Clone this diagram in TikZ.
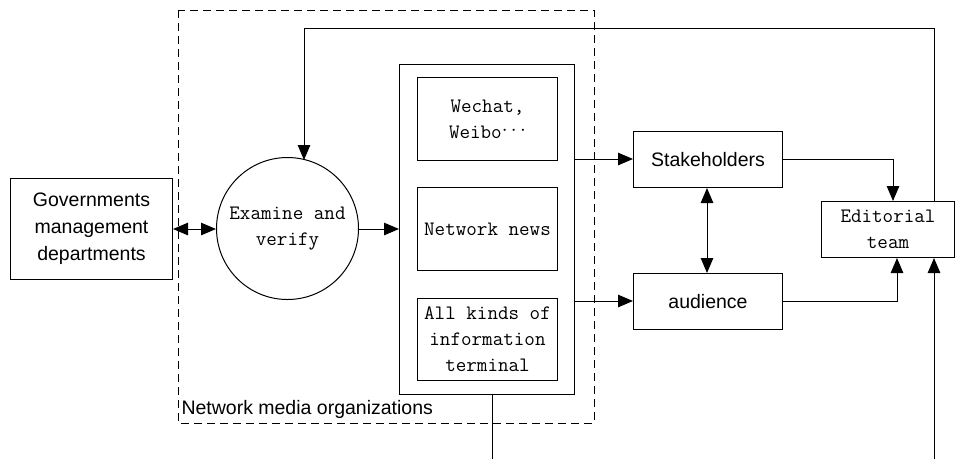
\documentclass[tikz,border=0pt]{standalone}
\usepackage{fontspec}
\setmainfont{Liberation Sans}
\usetikzlibrary{arrows.meta}
\begin{document}
\begin{tikzpicture}[x=1pt,y=-1pt,
  line width=1pt,
  tip/.style={-{Triangle[length=15pt,width=12.5pt]}},
  twotip/.style={{Triangle[length=15pt,width=12.5pt]}-{Triangle[length=15pt,width=12.5pt]}},
  sanstext/.style={font=\fontsize{19.5}{27}\selectfont, align=center},
  monotext/.style={font=\ttfamily\fontsize{20.5}{26}\selectfont, align=center},
  box/.style={draw, rectangle, inner sep=0pt, anchor=north west}
]
\useasboundingbox (0,0) rectangle (955,459);

% organisation boundary
\draw[dash pattern=on 8pt off 5pt] (178,10) rectangle (594,423);
\node[sanstext, anchor=base west, inner sep=0pt] (orglabel) at (181,414) {Network media organizations};

% left box and review circle
\node[box, minimum width=162pt, minimum height=101pt, sanstext] (gov) at (10,178)
  {Governments\\management\\departments};
\node[draw, circle, minimum size=142pt, inner sep=0pt, monotext] (exam) at (287.5,228.5)
  {Examine and\\verify};

% media column with its channels
\node[box, minimum width=175pt, minimum height=330pt] (col) at (399,64) {};
\node[box, minimum width=140pt, minimum height=83pt, monotext] (wechat) at (417,77)
  {Wechat,\\Weibo\raisebox{0.25ex}{$\cdots$}};
\node[box, minimum width=140pt, minimum height=83pt, monotext] (news) at (417,187)
  {Network news};
\node[box, minimum width=140pt, minimum height=82pt, monotext] (term) at (417,298)
  {All kinds of\\information\\terminal};

% receivers and editors
\node[box, minimum width=149pt, minimum height=56pt, sanstext] (stake) at (633,131) {Stakeholders};
\node[box, minimum width=149pt, minimum height=56pt, sanstext] (aud) at (633,273) {audience};
\node[box, minimum width=133pt, minimum height=56pt, monotext] (edit) at (821,201) {Editorial\\team};

% connector ends
\coordinate (loopR) at (934,28);
\coordinate (loopL) at (304,28);
\coordinate (colout) at (492,459);
\coordinate (editin) at (934,459);

% connectors
\draw[twotip] (gov.east |- 0,229) -- (exam.west |- 0,229);
\draw[tip] (exam.east |- 0,229) -- (col.west |- 0,229);
\draw[tip] (col.east |- 0,159) -- (stake.west |- 0,159);
\draw[tip] (col.east |- 0,301) -- (aud.west |- 0,301);
\draw[twotip] (stake.south -| 707,0) -- (aud.north -| 707,0);
\draw[tip] (stake.east) -| (edit.north -| 893,0);
\draw[tip] (aud.east) -| (edit.south -| 897,0);
\draw[tip] (edit.north -| loopR) -- (loopR) -- (loopL) -- (304,160);
\draw (col.south -| colout) -- (colout);
\draw[tip] (editin) -- (edit.south -| editin);
\end{tikzpicture}
\end{document}
